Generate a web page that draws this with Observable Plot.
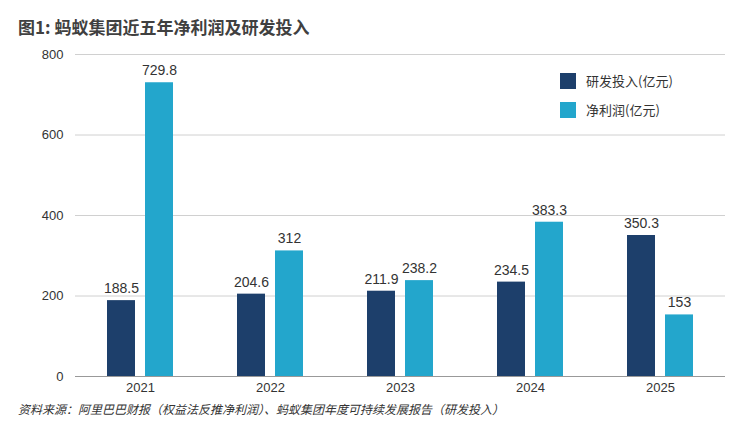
<!DOCTYPE html>
<html><head><meta charset="utf-8">
<script src="https://cdn.jsdelivr.net/npm/d3@7"></script>
<script src="https://cdn.jsdelivr.net/npm/@observablehq/plot@0.6"></script>
<style>
body{margin:0;background:#fff;font-family:"Liberation Sans","Noto Sans CJK SC",sans-serif;}
#wrap{position:relative;width:750px;}
#title{height:40px;font-size:17px;font-weight:bold;color:#404040;padding-left:18px;line-height:54px;box-sizing:border-box;font-family:"Noto Sans CJK SC",sans-serif;}
#legend{position:absolute;left:560px;top:66px;font-size:13px;color:#333;font-family:"Noto Sans CJK SC",sans-serif;}
#legend div{display:flex;align-items:center;height:29px;}
#legend span{display:inline-block;width:16px;height:16px;margin-right:10px;}
#foot{font-size:12px;color:#333;font-style:italic;padding-left:18px;margin-top:0px;font-family:"Noto Sans CJK SC",sans-serif;}
</style></head><body>
<div id="wrap">
<div id="title">图1: 蚂蚁集团近五年净利润及研发投入</div>
<div id="chart"></div>
<div id="legend"><div><span style="background:#1d3f6b"></span>研发投入(亿元)</div><div><span style="background:#23a6cc"></span>净利润(亿元)</div></div>
<div id="foot">资料来源：阿里巴巴财报（权益法反推净利润）、蚂蚁集团年度可持续发展报告（研发投入）</div>
</div>
<script>
const years=["2021","2022","2023","2024","2025"];
const rd=[188.5,204.6,211.9,234.5,350.3];
const profit=[729.8,312,238.2,383.3,153];
const series=["研发投入(亿元)","净利润(亿元)"];
const data=[];
years.forEach((y,i)=>{data.push({year:y,s:series[0],v:rd[i]});data.push({year:y,s:series[1],v:profit[i]});});
const chart=Plot.plot({
 width:750,height:360,marginTop:14,marginBottom:24,marginLeft:75,marginRight:25,
 style:{fontFamily:"Liberation Sans, sans-serif",fontSize:"13px",color:"#333"},
 fx:{domain:years,padding:0,label:null,axis:"bottom",tickSize:0,tickPadding:6},
 x:{domain:series,axis:null,paddingInner:0.26,paddingOuter:0.84},
 y:{domain:[0,800],ticks:[0,200,400,600,800],label:null,tickSize:0,tickPadding:12},
 color:{domain:series,range:["#1d3f6b","#23a6cc"]},
 marks:[
  Plot.gridY([200,400,600,800],{stroke:"#d0d0d0",strokeOpacity:1}),
  Plot.ruleY([0],{stroke:"#999"}),
  Plot.barY(data,{fx:"year",x:"s",y:"v",fill:"s"}),
  Plot.text(data,{fx:"year",x:"s",y:"v",text:d=>String(d.v),dy:-12,fontSize:14,fill:"#333"})
 ]
});
document.getElementById("chart").appendChild(chart);
</script>
</body></html>
